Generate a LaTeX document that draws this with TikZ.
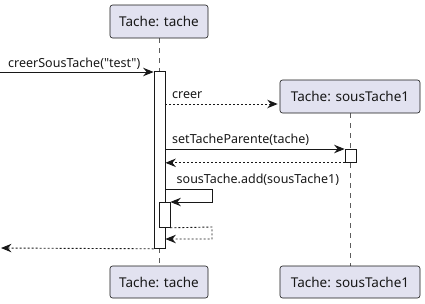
\documentclass[tikz,border=0pt]{standalone}
\usepackage{fontspec}
\setmainfont{Noto Sans}
% a family without the TeX quote mapping, so " stays a straight quote
\newfontfamily\plainsans{Noto Sans}
\usetikzlibrary{arrows.meta}
\definecolor{boxfill}{HTML}{E2E2F0}
\definecolor{ink}{HTML}{181818}
\begin{document}
\begin{tikzpicture}[x=1pt,y=-1pt,
  participant/.style={draw=ink, fill=boxfill, rounded corners=2.5pt, line width=0.6pt,
    inner sep=0pt, font=\plainsans\fontsize{13.5}{16}\selectfont, text=ink},
  activation/.style={draw=ink, fill=white, line width=0.8pt, inner sep=0pt,
    minimum width=11pt, anchor=north},
  lifeline/.style={draw=ink!70, line width=0.5pt, dash pattern=on 5pt off 5pt},
  msg/.style={draw=ink, line width=0.9pt, -{Stealth[length=10.5pt,width=8.5pt,inset=3.5pt]}},
  reply/.style={msg, dash pattern=on 2pt off 2pt},
  msglabel/.style={anchor=base west, inner sep=0pt, font=\plainsans\fontsize{12.5}{15}\selectfont, text=ink}
]
\useasboundingbox (0,0) rectangle (425,303);

% lifelines
\draw[lifeline] (159,38) -- (159,266);
\draw[lifeline] (350,113) -- (350,266);

% participants, top and bottom
\node[participant, minimum width=98pt, minimum height=33pt] (tTop) at (159,21.5) {Tache: tache};
\node[participant, minimum width=140pt, minimum height=33pt] (sTop) at (350,96.5) {Tache: sousTache1};
\node[participant, minimum width=98pt, minimum height=32pt] (tBot) at (159,282) {Tache: tache};
\node[participant, minimum width=140pt, minimum height=32pt] (sBot) at (350,282) {Tache: sousTache1};

% activation bars
\node[activation, minimum height=177pt] (actT) at (159.5,71) {};
\node[activation, minimum height=13pt] (actS) at (350.5,149) {};
\node[activation, minimum height=25pt] (actN) at (164.5,202) {};

% free ends and bends
\coordinate (caller) at (0,72);
\coordinate (back) at (1,248);
\coordinate (creerY) at (0,104);
\coordinate (selfA) at (212,189);
\coordinate (selfB) at (212,202);
\coordinate (selfC) at (212,227);
\coordinate (selfD) at (212,239);

% messages
\draw[msg] (caller) -- (actT.west |- caller);
\node[msglabel] (l1) at (8,67) {creerSousTache("test")};

\draw[reply] (actT.east |- creerY) -- ([xshift=-2pt]sTop.west |- creerY);
\node[msglabel] (l2) at (172,98) {creer};

\draw[msg] (actT.east |- actS.north) -- (actS.north west);
\node[msglabel] (l3) at (172,143.5) {setTacheParente(tache)};

\draw[reply] (actS.south west) -- (actT.east |- actS.south);

\draw[msg] (actT.east |- selfA) -- (selfA) -- (selfB) -- (actN.north east);
\node[msglabel] (l4) at (176.5,183) {sousTache.add(sousTache1)};

\draw[reply] (actN.south east) -- (selfC) -- (selfD) -- (actT.east |- selfD);

\draw[reply] (actT.south west) -- (back);
\end{tikzpicture}
\end{document}
